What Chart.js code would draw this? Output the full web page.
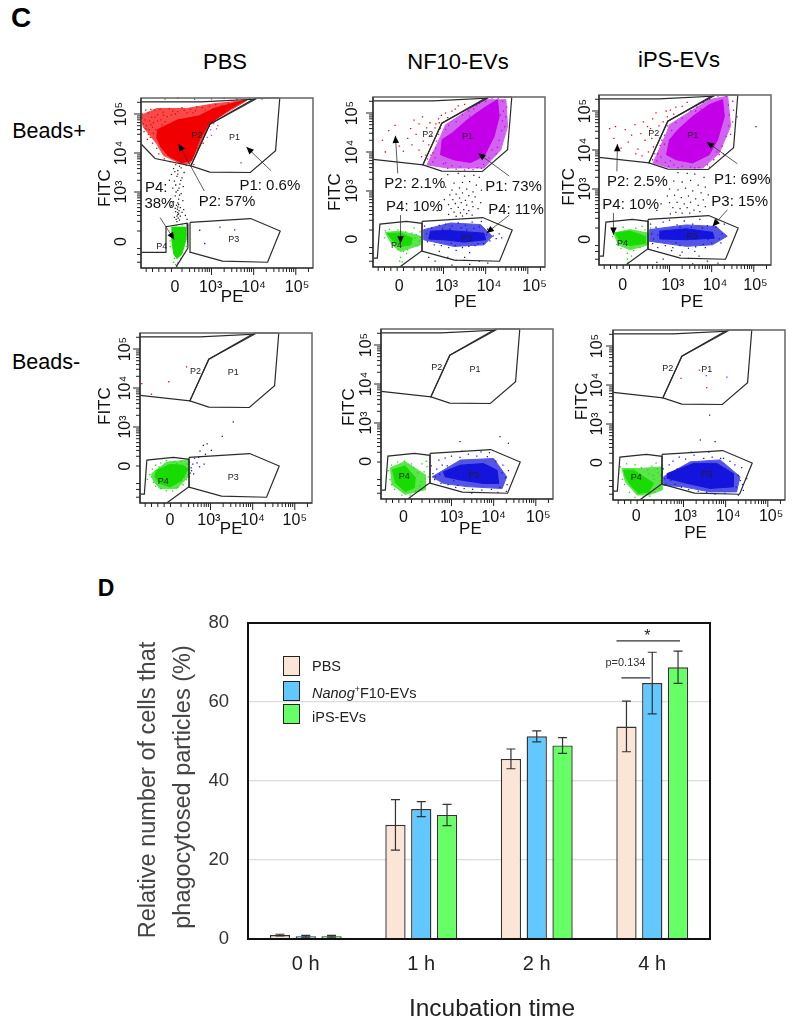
<!DOCTYPE html>
<html>
<head>
<meta charset="utf-8">
<title>Phagocytosis of beads</title>
<script src="https://cdn.jsdelivr.net/npm/chart.js@4/dist/chart.umd.min.js"></script>
<style>
  html, body { margin: 0; padding: 0; background: #fff; }
  body { width: 799px; height: 1032px; position: relative; overflow: hidden; font-family: "Liberation Sans", Arial, sans-serif; color: #000; }
  canvas { position: absolute; }
  .lab { position: absolute; transform: translate(-50%, -50%); white-space: nowrap; }
  .swatch { position: absolute; width: 17px; box-sizing: border-box; border: 1.5px solid #222; }
  .leg { position: absolute; font-size: 14.5px; color: #222; transform: translateY(-50%); white-space: nowrap; }
  .leg sup { font-size: 9px; line-height: 0; }
</style>
</head>
<body>
<div class="lab" style="left:21px;top:18px;font-size:28px;font-weight:bold">C</div>
<div class="lab" style="left:106px;top:588px;font-size:23px;font-weight:bold">D</div>
<div class="lab" style="left:225px;top:62px;font-size:22px">PBS</div>
<div class="lab" style="left:458px;top:62px;font-size:22px">NF10-EVs</div>
<div class="lab" style="left:679px;top:60px;font-size:22px">iPS-EVs</div>
<div class="lab" style="left:49px;top:131px;font-size:21.5px">Beads+</div>
<div class="lab" style="left:46px;top:362px;font-size:21.5px">Beads-</div>

<canvas id="panelA" width="228" height="224" style="left:93px;top:88px;width:228px;height:224px"></canvas>
<canvas id="panelB" width="228" height="224" style="left:325px;top:87px;width:228px;height:224px"></canvas>
<canvas id="panelC" width="228" height="224" style="left:551px;top:85px;width:228px;height:224px"></canvas>
<canvas id="panelD" width="228" height="224" style="left:92px;top:323px;width:228px;height:224px"></canvas>
<canvas id="panelE" width="228" height="224" style="left:333px;top:319px;width:228px;height:224px"></canvas>
<canvas id="panelF" width="228" height="224" style="left:565px;top:320px;width:228px;height:224px"></canvas>
<canvas id="barChart" width="600" height="422" style="left:120px;top:610px;width:600px;height:422px"></canvas>
<div id="legend"></div>

<script>
// ---- bar chart values (panel D)
const timePoints = ['0 h', '1 h', '2 h', '4 h'];
const pbsValues = [1.0, 28.9, 45.6, 53.8];
const nanogValues = [0.7, 32.9, 51.3, 64.8];
const ipsValues = [0.7, 31.4, 49.0, 68.8];
const pbsErrors = [0.2, 6.4, 2.5, 6.4];
const nanogErrors = [0.2, 1.9, 1.4, 7.8];
const ipsErrors = [0.2, 2.7, 2.0, 4.1];
const yTicksBar = [0, 20, 40, 60, 80];

// ---- flow plots: x and y are in log10 display units, 10^3 sits at 3
const gateP1 = [[4.62,5.41],[4.52,4.06],[3.92,3.5],[2.96,3.51],[2.51,3.67],[2.96,4.74],[4.04,5.41],[4.62,5.41]];
const gateP2 = [[1.33,5.31],[2.75,5.31],[4.04,5.38],[2.96,4.74],[2.51,3.67],[1.33,3.81]];
const gateP2Pbs = [[1.33,5.31],[2.75,5.31],[4.04,5.38],[2.96,4.74],[2.51,3.67],[1.66,3.86],[1.33,4.23]];
const gateP3 = [[2.49,2.22],[3.93,2.32],[4.63,2.0],[4.33,1.2],[3.26,1.23],[2.51,1.45],[2.49,2.22]];
const gateP4 = [[1.33,1.28],[1.43,1.28],[1.49,2.15],[2.12,2.22],[2.49,2.17],[2.49,1.47],[1.96,1.05]];
const gateP4Pbs = [[1.33,1.45],[1.9,1.45],[1.92,2.11],[2.42,2.2],[2.44,1.56],[2.16,1.08]];

const xMajor = [3, 4, 5];
const xMinor = [1.45,1.6,1.75,1.9,2.05,2.3,2.48,2.6,2.7,2.78,2.85,2.9,2.95,3.3,3.48,3.6,3.7,3.78,3.85,3.9,3.95,4.3,4.48,4.6,4.7,4.78,4.85,4.9,4.95,5.3];
const yMinor = [1.2,1.4,1.55,2.0,2.25,2.4,2.5,2.6,2.7,2.78,2.85,2.9,2.95,3.3,3.48,3.6,3.7,3.78,3.85,3.9,3.95,4.3,4.48,4.6,4.7,4.78,4.85,4.9,4.95,5.3];
const tickNames = ['0', '10³', '10⁴', '10⁵'];

// PBS, beads+
const redHaloA = [[1.34,4.97],[1.7,5.14],[2.41,5.14],[3.05,5.26],[3.84,5.35],[2.93,4.75],[2.81,4.41],[2.49,3.73],[2.26,3.73],[1.86,3.94],[1.7,4.24],[1.38,4.67]];
const redCoreA = [[1.72,4.6],[2.2,4.85],[2.7,4.95],[3.05,5.14],[3.53,5.28],[3.85,5.37],[3.45,5.14],[2.93,4.73],[2.73,4.37],[2.53,3.81],[2.29,3.75],[1.98,3.92],[1.8,4.15],[1.7,4.4]];
const redDotsA = [[1.36,5],[1.42,4.85],[1.5,5.02],[1.58,4.92],[1.46,4.7],[1.4,4.55],[1.52,4.6],[1.62,4.78],[1.72,4.98],[1.85,5.05],[1.95,4.93],[2.08,5.08],[2.2,5.06],[2.35,5.1],[2.5,5.12],[2.62,5.08],[2.78,5.16],[2.95,5.2],[3.1,5.24],[3.25,5.22],[3.4,5.28],[3.6,5.3],[1.55,4.4],[1.6,4.25],[1.7,4.12],[1.75,3.98],[1.88,3.85],[2.02,3.78],[2.15,3.7],[2.4,3.68],[2.58,3.7],[2.62,3.92],[2.68,4.12],[2.8,4.25],[2.85,4.5],[2.95,4.68],[3.05,4.85],[3.2,5],[3.35,5.1],[1.48,4.35],[1.38,4.75],[1.65,5.1],[2,5.14],[2.3,5.16],[2.65,5.18],[1.8,4.85],[1.9,4.8],[2.05,4.98],[1.75,4.55],[1.68,4.6],[1.62,4.5],[3,5.02],[2.9,4.9],[2.85,5.1],[1.44,5.1],[1.56,5.12],[1.78,5.12],[1.35,4.9],[1.53,4.82],[1.66,4.92],[1.6,4.66],[1.72,4.82],[1.5,4.48],[1.86,4.97],[2.14,5],[2.42,5.03],[2.56,5.03],[1.44,4.62],[1.56,4.72],[1.83,4.72]];
const purpleDotsA = [[3.05,4.75],[3.15,4.7],[3,4.45],[3.7,3.75],[2.9,4.4],[3.12,4.62],[2.98,4.6]];
const blackDotsA = [[2.1,3.6],[2.2,3.55],[2.28,3.62],[2.35,3.5],[2.05,3.45],[2.18,3.4],[2.3,3.36],[2.12,3.28],[2.25,3.2],[2.33,3.14],[2.08,3.1],[2.2,3.04],[2.28,2.96],[2.14,2.9],[2.22,2.82],[2.32,2.78],[2.1,2.75],[2.17,2.66],[2.26,2.6],[2.34,2.55],[2.15,2.5],[2.2,2.42],[2.26,2.38],[2.12,2.35],[2.24,2.28],[2.18,2.24],[2.2,2.72],[2.22,2.68],[2.2,2.62],[2.19,2.56],[2.23,2.52],[2.2,2.47],[2.22,2.44],[2.18,2.38],[2.21,2.33],[2.16,2.3],[2.24,2.92],[2.16,3],[2.23,3.1],[2.15,3.18],[2.27,3.3],[2.2,3.46],[2.13,3.52],[2.3,2.48],[2.38,2.4],[2.42,2.3],[2.05,2.65],[2,3.3],[2.24,3.66],[2.14,2.58],[1.9,5.39],[2.2,5.4],[2.6,5.38],[3,5.39],[3.3,5.4],[3.6,5.38],[3.9,5.4],[4.2,5.39]];
const greenCoreA = [[2.06,2.1],[2.38,2.1],[2.39,1.76],[2.3,1.42],[2.18,1.29],[2.1,1.42],[2.06,1.76]];
const greenDotsA = [[2.1,1.2],[2.15,1.14],[2.18,1.1],[2.12,1.3],[2.02,1.6],[2.04,1.9],[2.42,1.9],[2.4,1.6],[2.3,2.16],[2.16,2.14],[2.27,1.3],[2.2,1.18],[2.13,1.38],[2.02,1.75]];
const blueDotsA = [[2.72,2.02],[3.55,2.03],[2.84,1.68],[3.2,2.1]];

// NF10-EVs, beads+
const magentaHaloB = [[3.05,4.7],[3.96,5.34],[4.48,5.34],[4.52,4.66],[4.36,4.06],[3.96,3.59],[3.09,3.59],[2.61,3.67],[2.93,4.4]];
const magentaCoreB = [[3.21,4.49],[3.57,4.83],[3.96,5.13],[4.28,5.34],[4.32,4.91],[4.2,4.4],[3.96,3.89],[3.64,3.73],[3.25,3.8],[2.93,3.93],[2.97,4.32]];
const magentaDotsB = [[3.05,4.58],[3.12,4.68],[3.3,4.78],[3.45,4.95],[3.6,5.05],[3.72,5.1],[3.85,5.25],[4,5.3],[4.15,5.38],[4.3,5.38],[4.4,5.3],[4.42,5.05],[4.4,4.8],[4.38,4.55],[4.32,4.3],[4.28,4.12],[4.15,4.05],[4.08,3.85],[3.95,3.68],[3.8,3.6],[3.6,3.58],[3.4,3.62],[3.2,3.65],[3,3.7],[2.75,3.75],[2.7,3.92],[2.82,4.1],[2.88,4.45],[2.92,4.6],[2.8,3.85],[3.1,3.58],[3.3,3.56],[3.7,3.55],[3.9,3.58],[4.02,4.02],[4.45,4.65],[4.48,4.9],[4.5,5.15],[4.2,5.2],[3.8,5],[3.5,4.72],[2.62,3.82],[4.25,3.95],[3.5,3.54],[4.35,4.95],[4.1,5.22],[3.05,3.72],[2.83,4.28],[3.78,5.2],[3.62,4.92]];
const redDotsB = [[1.55,4.3],[1.7,4.55],[1.85,4.68],[1.95,4.15],[2.05,4.02],[2.15,4.35],[2.22,4.6],[2.3,4.82],[2.42,4.72],[2.5,4.9],[2.6,4.62],[2.65,4.18],[2.58,3.92],[2.52,4.28],[2.42,4.05],[2.75,3.98],[2.72,4.42],[2.8,4.62],[2.88,4.85],[3.05,5],[3.2,5.05],[3.35,5.18],[3.5,5.22],[3.1,4.88],[2.68,4.75],[2.35,4.45],[1.62,4],[2.48,3.88],[2.82,4.72],[2.95,4.94],[3.28,5.1],[2.9,4.75],[2.25,4.18]];
const blackDotsB = [[3.1,3.42],[3.35,3.45],[3.5,3.38],[3.72,3.4],[3.85,3.35],[3.25,3.2],[3.45,3.22],[3.62,3.24],[3.78,3.15],[3.05,3.1],[3.2,3.02],[3.38,3.08],[3.55,3.05],[3.7,2.98],[3.9,3.02],[3.15,2.9],[3.3,2.92],[3.45,2.95],[3.6,2.88],[3.75,2.85],[3.02,2.78],[3.22,2.78],[3.38,2.82],[3.52,2.76],[3.68,2.72],[3.88,2.7],[2.95,2.62],[3.12,2.65],[3.28,2.68],[3.42,2.7],[3.55,2.64],[3.7,2.6],[3.82,2.55],[3.18,2.55],[3.35,2.58],[3.48,2.52],[3.6,2.5],[3.25,2.46],[3.4,2.44],[3.55,2.42],[3.12,2.4],[3.68,2.38],[2.85,2.5],[3.3,2.35],[3.45,2.36],[2.9,1.45],[3.1,1.3],[3.3,1.22],[3.5,1.3],[3.62,1.12],[3.85,1.2],[2.8,1.2],[2.65,1.3],[3.2,1.1],[4.05,1.15]];
const blueHaloB = [[2.53,2.01],[3.17,2.18],[3.88,2.14],[4.16,1.84],[3.96,1.62],[3.25,1.58],[2.53,1.75]];
const blueCoreB = [[2.69,1.97],[3.09,1.99],[3.96,1.92],[4,1.75],[3.49,1.69],[3.01,1.75],[2.65,1.77]];
const blueDotsB = [[2.55,2.1],[2.6,1.9],[2.62,1.7],[2.72,2.05],[2.78,1.62],[2.9,2.12],[2.95,1.6],[3.05,2.15],[3.12,1.55],[3.2,2.1],[3.28,1.6],[3.35,2.18],[3.45,1.55],[3.52,2.12],[3.6,1.58],[3.68,2.2],[3.75,1.6],[3.85,2.08],[3.95,1.65],[4.05,2.02],[4.1,1.72],[4.18,1.85],[4.25,1.78],[4.32,1.9],[4.38,1.8],[3.15,2.02],[3.42,2.06],[3.72,2.04],[3.3,1.48],[3.62,1.42],[2.85,1.95],[3.9,2.22],[2.75,1.82],[3.55,2],[3.82,1.65],[4.02,1.88],[3.18,1.66],[2.98,2.02]];
const greenHaloB = [[1.62,1.94],[1.98,1.97],[2.45,1.84],[2.45,1.62],[1.98,1.45],[1.78,1.62]];
const greenCoreB = [[1.66,1.91],[1.98,1.92],[2.26,1.79],[2.22,1.62],[1.98,1.58],[1.78,1.75]];
const greenDotsB = [[1.62,1.98],[1.6,1.8],[1.72,2.02],[1.92,2],[2.1,1.95],[2.25,1.92],[2.35,1.88],[2.42,1.72],[2.38,1.6],[2.32,1.8],[2.44,1.95],[2.15,1.5],[2.05,1.45],[1.92,1.5],[1.85,1.58],[1.98,1.3],[1.96,1.2],[2.02,1.18],[2.3,2.05],[2.45,1.82],[2.2,1.72],[2.12,1.4]];

// iPS-EVs, beads+
const magentaHaloC = [[3,4.65],[3.94,5.29],[4.38,5.38],[4.45,4.61],[4.18,3.92],[3.79,3.54],[3,3.54],[2.61,3.67],[2.93,4.44]];
const magentaCoreC = [[3.2,4.52],[3.55,4.86],[3.94,5.16],[4.26,5.29],[4.3,4.86],[4.14,4.26],[3.94,3.88],[3.55,3.67],[3.16,3.75],[2.93,3.88],[3,4.26]];
const magentaDotsC = [[3.05,4.5],[3.15,4.7],[3.3,4.82],[3.5,5],[3.65,5.1],[3.8,5.22],[3.95,5.3],[4.15,5.38],[4.35,5.38],[4.4,5.15],[4.42,4.9],[4.4,4.62],[4.34,4.35],[4.25,4.1],[4.12,3.95],[4.05,3.75],[3.9,3.62],[3.7,3.55],[3.5,3.56],[3.3,3.58],[3.1,3.62],[2.9,3.68],[2.7,3.72],[2.65,3.9],[2.78,4.12],[2.88,4.38],[2.95,4.62],[2.8,3.82],[3.2,3.55],[3.6,3.54],[3.95,3.56],[4.28,3.9],[4.5,4.72],[4.52,5.02],[4.5,5.25],[3.75,5.05],[3.48,4.78],[4.1,5.22],[2.6,3.75],[2.98,3.58],[4.45,4.4],[4.2,5.1],[3.02,3.72],[2.82,4.25],[3.62,5],[4.18,3.88]];
const redDotsC = [[1.58,4.55],[1.72,4.6],[1.85,4.05],[1.95,4.52],[2.02,4.2],[2.1,4.38],[2.18,4.65],[2.25,4.02],[2.32,4.42],[2.38,4.72],[2.42,4.25],[2.5,3.95],[2.55,4.55],[2.6,4.8],[2.62,4.08],[2.68,4.95],[2.72,3.9],[2.78,4.32],[2.85,4.72],[2.92,5],[3.02,5.02],[3.15,5.1],[3.3,5.12],[3.42,5.22],[2.2,3.9],[1.68,4.3],[2.48,4.6],[2.88,4.15],[2.58,4.3],[2.75,4.62],[2.35,3.85],[3.1,4.92],[2.95,4.85]];
const blackDotsC = [[3.2,3.42],[3.42,3.4],[3.6,3.38],[3.82,3.3],[3.1,3.2],[3.3,3.18],[3.5,3.22],[3.68,3.1],[3.85,3.05],[3,3],[3.2,2.98],[3.38,3.02],[3.55,2.95],[3.75,2.9],[3.92,2.85],[2.95,2.82],[3.12,2.84],[3.28,2.78],[3.45,2.82],[3.62,2.75],[3.8,2.72],[2.8,2.62],[3,2.65],[3.18,2.66],[3.35,2.62],[3.5,2.66],[3.68,2.58],[3.85,2.55],[3.08,2.52],[3.25,2.5],[3.42,2.52],[3.58,2.46],[3.72,2.42],[3.15,2.4],[3.3,2.38],[3.48,2.38],[2.7,2.45],[3.02,2.36],[4.6,4.85],[5.05,4.6],[3.05,1.42],[3.25,1.3],[3.45,1.22],[3.7,1.28],[3.9,1.15],[4.15,1.1],[2.85,1.2],[2.7,1.12],[3.55,1.08]];
const blueHaloC = [[2.53,1.96],[3.4,2.08],[4.1,2.04],[4.37,1.79],[4.02,1.57],[3.4,1.53],[2.53,1.66]];
const blueCoreC = [[2.77,1.92],[3.4,1.98],[4.02,1.89],[4.06,1.74],[3.4,1.7],[2.77,1.72]];
const blueDotsC = [[2.55,2.1],[2.58,1.85],[2.6,1.6],[2.68,2.02],[2.72,1.5],[2.85,2.15],[2.9,1.55],[3,2.2],[3.08,1.5],[3.18,2.08],[3.25,1.55],[3.35,2.18],[3.45,1.48],[3.55,2.1],[3.62,1.52],[3.72,2.22],[3.8,1.58],[3.9,2.06],[4,1.62],[4.1,2.02],[4.18,1.72],[4.25,1.85],[4.3,2.1],[4.12,2.22],[3.25,2.02],[3.52,2.02],[3.78,2],[3.3,1.38],[3.6,1.4],[2.72,1.82],[3.92,1.7],[3.05,1.9],[3.15,1.62],[4.22,1.62],[2.62,1.72],[3.85,1.5]];
const greenHaloC = [[1.67,1.87],[2.06,1.96],[2.49,1.87],[2.49,1.57],[2.06,1.44],[1.79,1.57]];
const greenCoreC = [[1.71,1.87],[2.06,1.92],[2.42,1.79],[2.42,1.61],[2.06,1.55],[1.83,1.66]];
const greenDotsC = [[1.68,1.98],[1.65,1.78],[1.9,2.02],[2.2,2],[2.42,1.95],[2.5,1.85],[2.52,1.65],[2.48,1.5],[2.3,1.5],[2.15,1.42],[2,1.35],[2,1.2],[2.02,1.12],[1.85,1.48],[1.75,1.58],[2.35,2.04],[2.55,2],[2.1,1.28]];

// PBS, beads-
const greenHaloD = [[1.6,1.8],[1.96,2.1],[2.47,2.15],[2.47,1.72],[2.2,1.42],[1.8,1.42],[1.64,1.63]];
const greenCoreD = [[1.72,1.89],[2.04,2.04],[2.35,2.02],[2.47,1.93],[2.31,1.63],[2.04,1.46],[1.8,1.55],[1.68,1.72]];
const greenDotsD = [[1.62,1.92],[1.6,1.72],[1.56,1.78],[1.7,2.02],[1.82,2.08],[1.95,2.14],[2.15,2.12],[2.3,2.12],[2.45,2.05],[2.46,1.78],[2.42,1.65],[2.35,1.52],[2.22,1.45],[2.1,1.36],[1.95,1.36],[1.82,1.42],[1.7,1.48],[1.65,1.58],[2.5,1.9],[1.5,1.66],[2.38,1.72],[1.78,1.98],[2.2,2.06],[2.15,1.54]];
const blueDotsD = [[2.5,2.1],[2.54,1.95],[2.52,1.82],[2.5,1.72],[2.58,2.05],[2.62,2.2],[2.68,2.08],[2.72,2.22],[2.74,1.98],[2.85,2.05],[2.55,1.88],[2.6,1.8]];
const blackDotsD = [[3.54,3.13],[3.28,2.76],[2.92,2.57],[2.75,2.38],[3.02,2.4],[2.88,2.3],[2.83,2.53]];
const redDotsD = [[2.43,4.54],[2.01,4.16],[1.6,3.84],[1.37,4.11]];

// NF10-EVs, beads-
const blueHaloE = [[2.54,1.62],[3.21,2.05],[4,2.09],[4.31,1.62],[4.2,1.32],[3.37,1.37],[2.81,1.45]];
const blueCoreE = [[2.81,1.75],[3.21,1.92],[3.76,1.96],[4.08,1.79],[4.12,1.45],[3.76,1.45],[3.21,1.54],[2.85,1.62]];
const blueDotsE = [[2.52,1.9],[2.56,1.7],[2.6,1.55],[2.65,1.82],[2.7,2.05],[2.75,1.45],[2.85,2.1],[2.92,1.42],[3,2.15],[3.1,1.35],[3.2,2.12],[3.3,1.32],[3.4,2.2],[3.5,1.3],[3.6,2.15],[3.72,1.28],[3.85,2.14],[3.95,1.3],[4.05,2.02],[4.15,1.35],[4.22,1.92],[4.28,1.6],[4.32,1.42],[4.2,1.72],[4.35,1.78],[3.25,2.28],[3.7,2.26],[4.1,1.22],[3.48,1.2],[2.72,1.68],[2.9,1.9],[3.05,1.52],[2.62,1.62],[2.78,1.92],[3.15,1.4],[4.3,1.25],[3.9,2.24],[2.95,1.7]];
const blackDotsE = [[3.2,2.52],[4.15,2.65],[4.35,2.48]];
const greenHaloE = [[1.55,1.85],[1.9,2.01],[2.38,1.67],[2.38,1.29],[1.9,1.17],[1.59,1.42]];
const greenCoreE = [[1.6,1.8],[1.9,1.9],[2.14,1.6],[2.12,1.34],[1.9,1.24],[1.67,1.47]];
const greenDotsE = [[1.5,1.78],[1.54,1.55],[1.58,1.92],[1.72,2],[1.88,2.02],[2.1,1.85],[2.2,1.72],[2.28,1.5],[2.35,1.75],[2.42,1.88],[2.45,1.62],[2.3,1.95],[2.15,1.25],[2.02,1.15],[1.82,1.15],[1.65,1.3],[2.25,1.38],[2.4,1.42],[2.48,1.55],[2.05,1.95],[2.4,2.02],[1.58,1.42]];

// iPS-EVs, beads-
const blueHaloF = [[2.53,1.65],[3.16,2.03],[3.87,2.08],[4.34,1.65],[4.26,1.26],[3.63,1.26],[3,1.39],[2.53,1.43]];
const blueCoreF = [[2.61,1.73],[3.24,1.99],[3.79,1.99],[4.18,1.73],[4.18,1.39],[3.63,1.35],[3.08,1.48],[2.61,1.61]];
const blueDotsF = [[2.52,1.85],[2.55,1.6],[2.58,1.45],[2.66,1.95],[2.75,2.05],[2.8,1.45],[2.9,2.15],[2.95,1.38],[3.05,2.1],[3.12,1.32],[3.25,2.2],[3.35,1.28],[3.48,2.12],[3.55,1.25],[3.68,2.15],[3.75,1.2],[3.88,2.12],[3.98,1.22],[4.1,2.04],[4.25,1.38],[4.3,1.68],[4.35,1.55],[4.42,1.3],[4.38,1.88],[4.22,1.95],[4.4,1.45],[2.7,1.55],[2.85,1.85],[3.18,2.28],[3.6,2.28],[3.95,2.12],[4.3,1.18],[4.5,1.6]];
const blackDotsF = [[3.62,3.23],[3.4,2.59],[3.75,2.55]];
const magentaDotsF = [[3.38,4.38],[3.54,4.24],[2.94,4.17],[4.03,4.2],[3.55,3.93]];
const greenHaloF = [[1.54,1.86],[1.97,1.86],[2.49,1.9],[2.49,1.31],[2.17,1.18],[1.9,1.18],[1.62,1.52]];
const greenCoreF = [[1.58,1.82],[1.82,1.82],[2.05,1.65],[2.29,1.48],[2.17,1.26],[1.93,1.22],[1.74,1.44],[1.62,1.65]];
const greenDotsF = [[1.5,1.9],[1.46,1.72],[1.55,1.58],[1.65,1.98],[1.85,1.95],[2,1.88],[2.15,1.82],[2.25,1.92],[2.35,2],[2.4,1.75],[2.45,1.55],[2.42,1.35],[2.38,1.85],[2.32,1.25],[2.2,1.15],[2.05,1.14],[1.85,1.12],[1.72,1.25],[2.48,1.95],[2.45,1.68],[2.28,1.68],[2.3,1.58],[2.18,1.72],[1.6,1.45]];

const RED = '#f00000', MAGENTA = '#c400e8', BLUE = '#1414dc', GREEN = '#18dc00', BLACK = '#222', PURPLE = '#b040f0';
const RED_SOFT = '#f94a4a', MAGENTA_SOFT = '#d262f0', BLUE_SOFT = '#5454e6', GREEN_SOFT = '#5ae64a';

// layer lists per panel: halos are the speckled outskirts, cores the solid middle, dots single events
const panels = [
  { id: 'panelA', p2: gateP2Pbs, p4: gateP4Pbs, xSpots: [2.13,2.98,4,5.03], ySpots: [1.73,3,4,5], yPad: 7, xPad: 10,
    halos: [[redHaloA, RED_SOFT]],
    cores: [[redCoreA, RED], [greenCoreA, GREEN]],
    dots: [[redDotsA, RED], [purpleDotsA, PURPLE], [blackDotsA, BLACK], [greenDotsA, GREEN], [blueDotsA, BLUE]],
    gateNames: [.543,.235,.325,.22,.539,.831,.121,.873],
    pe: [.53,1.17], fitc: [-.209,.53],
    arrows: [[.757,.429,.613,.288],[.368,.547,.218,.269],[.111,.704,.193,.833]],
    notes: [['P1: 0.6%',.749,.514],['P2: 57%',.5,.608],['P4:',.088,.527],['38%',.107,.622]] },
  { id: 'panelB', p2: gateP2, p4: gateP4, xSpots: [1.95,3.07,4.08,5.16], ySpots: [1.77,3,4,5], yPad: 8.5, xPad: 10,
    halos: [[magentaHaloB, MAGENTA_SOFT], [blueHaloB, BLUE_SOFT], [greenHaloB, GREEN_SOFT]],
    cores: [[magentaCoreB, MAGENTA], [blueCoreB, BLUE], [greenCoreB, GREEN]],
    dots: [[magentaDotsB, MAGENTA], [redDotsB, RED], [blackDotsB, BLACK], [blueDotsB, BLUE], [greenDotsB, GREEN]],
    gateNames: [.549,.232,.319,.219,.543,.833,.136,.876],
    pe: [.537,1.207], fitc: [-.219,.56],
    arrows: [[.144,.449,.13,.228],[.792,.465,.611,.331],[.16,.695,.16,.862],[.792,.695,.66,.8]],
    notes: [['P2: 2.1%',.243,.508],['P1: 73%',.817,.531],['P4: 10%',.241,.646],['P4: 11%',.831,.665]] },
  { id: 'panelC', p2: gateP2, p4: gateP4, xSpots: [1.89,3.08,4.08,5.04], ySpots: [1.71,3,4,5], yPad: 1.5, xPad: 11,
    halos: [[magentaHaloC, MAGENTA_SOFT], [blueHaloC, BLUE_SOFT], [greenHaloC, GREEN_SOFT]],
    cores: [[magentaCoreC, MAGENTA], [blueCoreC, BLUE], [greenCoreC, GREEN]],
    dots: [[magentaDotsC, MAGENTA], [redDotsC, RED], [blackDotsC, BLACK], [blueDotsC, BLUE], [greenDotsC, GREEN]],
    gateNames: [.545,.237,.319,.224,.541,.831,.136,.875],
    pe: [.54,1.22], fitc: [-.174,.54],
    arrows: [[.104,.449,.107,.288],[.804,.404,.626,.276],[.084,.694,.084,.822],[.747,.675,.66,.773]],
    notes: [['P2: 2.5%',.223,.512],['P1: 69%',.833,.498],['P4: 10%',.184,.649],['P3: 15%',.818,.629]] },
  { id: 'panelD', p2: gateP2, p4: gateP4, xSpots: [2.04,2.96,4,5], ySpots: [2,3,4,5], yPad: 2, xPad: 8,
    halos: [[greenHaloD, GREEN_SOFT]],
    cores: [[greenCoreD, GREEN]],
    dots: [[greenDotsD, GREEN], [blueDotsD, BLUE], [blackDotsD, BLACK], [redDotsD, RED]],
    gateNames: [.542,.235,.323,.225,.542,.851,.135,.876],
    pe: [.53,1.153], fitc: [-.203,.43], arrows: [], notes: [] },
  { id: 'panelE', p2: gateP2, p4: gateP4, xSpots: [1.86,3,4,5.06], ySpots: [2.02,3,4,5], yPad: 2, xPad: 9,
    halos: [[blueHaloE, BLUE_SOFT], [greenHaloE, GREEN_SOFT]],
    cores: [[blueCoreE, BLUE], [greenCoreE, GREEN]],
    dots: [[blueDotsE, BLUE], [blackDotsE, BLACK], [greenDotsE, GREEN]],
    gateNames: [.547,.237,.324,.225,.541,.859,.135,.865],
    pe: [.52,1.176], fitc: [-.186,.46], arrows: [], notes: [] },
  { id: 'panelF', p2: gateP2, p4: gateP4, xSpots: [1.88,3.04,4.06,5.08], ySpots: [2.01,3,4,5], yPad: 3.5, xPad: 7,
    halos: [[blueHaloF, BLUE_SOFT], [greenHaloF, GREEN_SOFT]],
    cores: [[blueCoreF, BLUE], [greenCoreF, GREEN]],
    dots: [[blueDotsF, BLUE], [blackDotsF, BLACK], [magentaDotsF, MAGENTA], [greenDotsF, GREEN]],
    gateNames: [.545,.235,.319,.225,.545,.853,.135,.869],
    pe: [.48,1.194], fitc: [-.18,.42], arrows: [], notes: [] }
];

const FONT = '"Liberation Sans", Arial, sans-serif';
const toXY = pairs => pairs.map(p => ({ x: p[0], y: p[1] }));
const noMargins = s => { s.paddingLeft = s.paddingRight = s.paddingTop = s.paddingBottom = 0; };

function putText(ctx, text, x, y, font, color, rotated) {
  ctx.save();
  ctx.font = font;
  ctx.fillStyle = color || '#000';
  ctx.textAlign = 'center';
  ctx.textBaseline = 'middle';
  ctx.translate(x, y);
  if (rotated) ctx.rotate(-Math.PI / 2);
  ctx.fillText(text, 0, 0);
  ctx.restore();
}

function putArrow(ctx, x0, y0, x1, y1) {
  const a = Math.atan2(y1 - y0, x1 - x0);
  ctx.strokeStyle = '#333';
  ctx.lineWidth = 0.8;
  ctx.beginPath();
  ctx.moveTo(x0, y0);
  ctx.lineTo(x1, y1);
  ctx.stroke();
  ctx.fillStyle = '#000';
  ctx.beginPath();
  ctx.moveTo(x1, y1);
  ctx.lineTo(x1 - 8 * Math.cos(a - 0.42), y1 - 8 * Math.sin(a - 0.42));
  ctx.lineTo(x1 - 8 * Math.cos(a + 0.42), y1 - 8 * Math.sin(a + 0.42));
  ctx.closePath();
  ctx.fill();
}

// frame, tick marks and notes for one flow plot
const flowDecor = {
  id: 'flowDecor',
  afterDatasetsDraw(chart, args, opts) {
    const p = opts.panel, a = chart.chartArea, ctx = chart.ctx;
    const px = f => a.left + f * a.width, py = f => a.top + f * a.height;
    const xs = chart.scales.x, ys = chart.scales.y;
    ctx.save();
    ctx.strokeStyle = '#6e6e6e';
    ctx.lineWidth = 1.6;
    ctx.strokeRect(a.left, a.top, a.width, a.height);
    ctx.strokeStyle = '#222';
    ctx.lineWidth = 1.2;
    ctx.beginPath();
    ctx.moveTo(a.left, a.top);
    ctx.lineTo(a.left, a.bottom);
    ctx.lineTo(a.right, a.bottom);
    ctx.stroke();
    ctx.lineWidth = 1;
    ctx.beginPath();
    xMajor.forEach(v => { ctx.moveTo(xs.getPixelForValue(v), a.bottom); ctx.lineTo(xs.getPixelForValue(v), a.bottom + 7); });
    xMinor.forEach(v => { ctx.moveTo(xs.getPixelForValue(v), a.bottom); ctx.lineTo(xs.getPixelForValue(v), a.bottom + 4); });
    xMajor.forEach(v => { ctx.moveTo(a.left, ys.getPixelForValue(v)); ctx.lineTo(a.left - 7, ys.getPixelForValue(v)); });
    yMinor.forEach(v => { ctx.moveTo(a.left, ys.getPixelForValue(v)); ctx.lineTo(a.left - 4, ys.getPixelForValue(v)); });
    ctx.stroke();
    const g = p.gateNames;
    ['P1', 'P2', 'P3', 'P4'].forEach((t, i) => putText(ctx, t, px(g[i * 2]), py(g[i * 2 + 1]), '9px ' + FONT, '#222'));
    p.arrows.forEach(r => putArrow(ctx, px(r[0]), py(r[1]), px(r[2]), py(r[3])));
    p.notes.forEach(n => putText(ctx, n[0], px(n[1]), py(n[2]), '15px ' + FONT, '#111'));
    putText(ctx, 'PE', px(p.pe[0]), py(p.pe[1]), '17px ' + FONT, '#111');
    putText(ctx, 'FITC', px(p.fitc[0]), py(p.fitc[1]), '17px ' + FONT, '#111', true);
    ctx.restore();
  }
};

panels.forEach(p => {
  const gates = [gateP1, p.p2, gateP3, p.p4].map(g => ({
    type: 'line', data: toXY(g), borderColor: '#2a2a2a', borderWidth: 1.2, pointRadius: 0, fill: false, tension: 0, clip: false, order: 1
  }));
  const blob = (c, order) => ({
    type: 'line', data: toXY(c[0].concat([c[0][0]])), borderColor: c[1], backgroundColor: c[1], borderWidth: 1,
    pointRadius: 0, fill: 'shape', tension: 0, order: order
  });
  const halos = p.halos.map(c => blob(c, 4));
  const cores = p.cores.map(c => blob(c, 3));
  const dots = p.dots.map(d => ({
    type: 'scatter', data: toXY(d[0]), backgroundColor: d[1], borderWidth: 0, pointRadius: 0.9, pointStyle: 'rect', clip: false, order: 2
  }));
  new Chart(document.getElementById(p.id), {
    data: { datasets: halos.concat(cores, dots, gates) },
    plugins: [flowDecor],
    options: {
      responsive: false,
      animation: false,
      layout: { padding: { top: 10, right: 8 } },
      plugins: { legend: { display: false }, tooltip: { enabled: false }, flowDecor: { panel: p } },
      scales: {
        x: {
          type: 'linear', min: 1.327, max: 5.408, bounds: 'data',
          grid: { display: false, drawTicks: false }, border: { display: false },
          afterBuildTicks: s => { s.ticks = p.xSpots.map(v => ({ value: v })); },
          afterFit: s => { s.height = 44; noMargins(s); },
          ticks: { autoSkip: false, maxRotation: 0, padding: p.xPad, color: '#111', font: { family: FONT, size: 16 }, callback: (v, i) => tickNames[i] }
        },
        y: {
          type: 'linear', min: 1.052, max: 5.41, bounds: 'data',
          grid: { display: false, drawTicks: false }, border: { display: false },
          afterBuildTicks: s => { s.ticks = p.ySpots.map(v => ({ value: v })); },
          afterFit: s => { s.width = 48; noMargins(s); },
          ticks: { autoSkip: false, minRotation: 90, maxRotation: 90, crossAlign: 'center', padding: p.yPad, color: '#111', font: { family: FONT, size: 16 }, callback: (v, i) => tickNames[i] }
        }
      }
    }
  });
});

// ---- bar chart
const errorBars = {
  id: 'errorBars',
  afterDatasetsDraw(chart) {
    const ctx = chart.ctx, ys = chart.scales.y, a = chart.chartArea;
    const errs = [pbsErrors, nanogErrors, ipsErrors];
    ctx.save();
    ctx.strokeStyle = '#111';
    ctx.lineWidth = 2;
    ctx.strokeRect(a.left, a.top, a.width, a.height);
    ctx.strokeStyle = '#333';
    ctx.lineWidth = 1.2;
    chart.data.datasets.forEach((ds, i) => {
      chart.getDatasetMeta(i).data.forEach((bar, j) => {
        const hi = ys.getPixelForValue(ds.data[j] + errs[i][j]);
        const lo = ys.getPixelForValue(ds.data[j] - errs[i][j]);
        ctx.beginPath();
        ctx.moveTo(bar.x, hi); ctx.lineTo(bar.x, lo);
        ctx.moveTo(bar.x - 4.5, hi); ctx.lineTo(bar.x + 4.5, hi);
        ctx.moveTo(bar.x - 4.5, lo); ctx.lineTo(bar.x + 4.5, lo);
        ctx.stroke();
      });
    });
    // significance marks on the 4 h group
    const last = timePoints.length - 1;
    const b0 = chart.getDatasetMeta(0).data[last].x, b1 = chart.getDatasetMeta(1).data[last].x, b2 = chart.getDatasetMeta(2).data[last].x;
    ctx.beginPath();
    ctx.moveTo(b0 - 10, ys.getPixelForValue(75.5)); ctx.lineTo(b2 + 2, ys.getPixelForValue(75.5));
    ctx.moveTo(b0 - 5, ys.getPixelForValue(66.1)); ctx.lineTo(b1 - 2, ys.getPixelForValue(66.1));
    ctx.stroke();
    putText(ctx, '*', b1 - 5, ys.getPixelForValue(76.6), '16px ' + FONT, '#222');
    putText(ctx, 'p=0.134', b0 - 1, ys.getPixelForValue(69.8), '11px ' + FONT, '#333');
    // axis titles
    putText(ctx, 'Relative number of cells that', a.left - 99, 180, '23.5px ' + FONT, '#444', true);
    putText(ctx, 'phagocytosed particles (%)', a.left - 64, 177, '23.5px ' + FONT, '#444', true);
    putText(ctx, 'Incubation time', 372, 399, '24.5px ' + FONT, '#222');
    ctx.restore();
  }
};

const barChart = new Chart(document.getElementById('barChart'), {
  type: 'bar',
  data: {
    labels: timePoints,
    datasets: [
      { label: 'PBS', data: pbsValues, backgroundColor: '#fbe5d6' },
      { label: 'Nanog+F10-EVs', data: nanogValues, backgroundColor: '#62c8ff' },
      { label: 'iPS-EVs', data: ipsValues, backgroundColor: '#66ff66' }
    ]
  },
  plugins: [errorBars],
  options: {
    responsive: false,
    animation: false,
    datasets: { bar: { categoryPercentage: 0.67, barPercentage: 0.787, borderColor: '#333', borderWidth: 1.4 } },
    layout: { padding: { top: 13, right: 10 } },
    plugins: { legend: { display: false }, tooltip: { enabled: false } },
    scales: {
      x: {
        grid: { display: false, drawTicks: false }, border: { display: false },
        afterFit: s => { s.height = 93; noMargins(s); },
        ticks: { padding: 13, color: '#222', font: { family: FONT, size: 20 } }
      },
      y: {
        min: 0, max: 80, bounds: 'data',
        grid: { color: '#dcdcdc', lineWidth: 1.2, drawTicks: false }, border: { display: false },
        afterBuildTicks: s => { s.ticks = yTicksBar.map(v => ({ value: v })); },
        afterFit: s => { s.width = 128; noMargins(s); },
        ticks: { padding: 19, color: '#333', font: { family: FONT, size: 18.5 } }
      }
    }
  }
});

// legend sits inside the plot, swatches come from the dataset colours
const legendRows = [[656, 666], [681, 693], [704, 717]];
const legendBox = document.getElementById('legend');
barChart.data.datasets.forEach((ds, i) => {
  const sw = document.createElement('div');
  sw.className = 'swatch';
  sw.style.cssText = 'left:283px;top:' + legendRows[i][0] + 'px;height:20px;background:' + ds.backgroundColor;
  legendBox.appendChild(sw);
  const t = document.createElement('div');
  t.className = 'leg';
  t.style.cssText = 'left:312px;top:' + legendRows[i][1] + 'px';
  t.innerHTML = ds.label.replace('Nanog+', '<i>Nanog</i><sup>+</sup>');
  legendBox.appendChild(t);
});
</script>
</body>
</html>
